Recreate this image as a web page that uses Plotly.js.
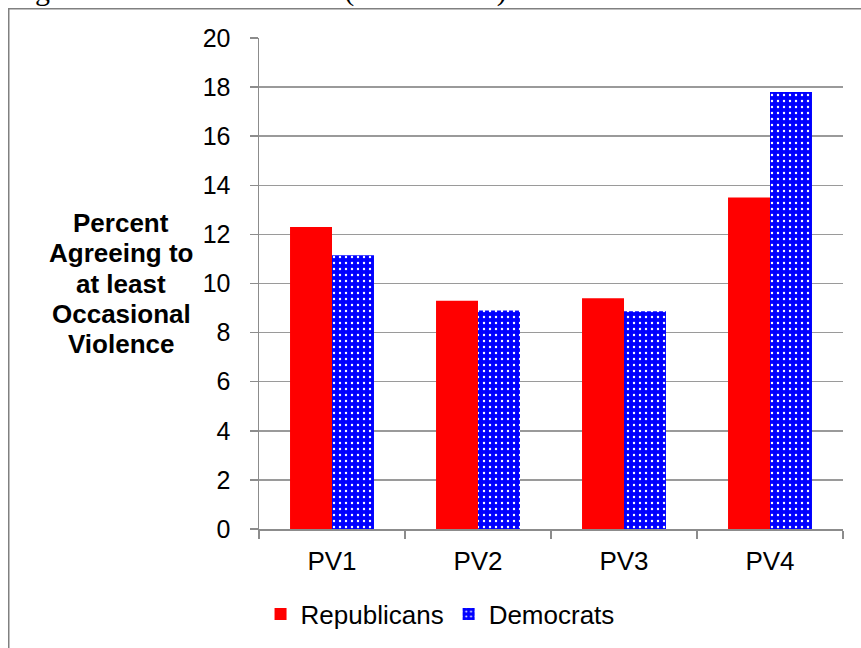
<!DOCTYPE html>
<html>
<head>
<meta charset="utf-8">
<script src="https://cdn.plot.ly/plotly-3.0.1.min.js"></script>
<style>html,body{margin:0;padding:0;background:#fff;}#chart{width:861px;height:648px;}</style>
</head>
<body>
<div id="chart"></div>
<script>
const categories = ["PV1", "PV2", "PV3", "PV4"];
const republicans = [12.3, 9.3, 9.4, 13.5];
const democrats = [11.15, 8.9, 8.87, 17.8];
const yTicks = [0, 2, 4, 6, 8, 10, 12, 14, 16, 18, 20];
const yTitleLines = ["Percent", "Agreeing to", "at least", "Occasional", "Violence"];
const pageTitle = "Figure 3: Partisan Violence (CCES 2018)";

const font = "Arial, 'Liberation Sans', sans-serif";
const fs = 25;

const traces = [
  {
    type: "bar", name: "Republicans", x: categories, y: republicans,
    marker: {color: "#ff0000", line: {width: 0}}
  },
  {
    type: "bar", name: "Democrats", x: categories, y: democrats,
    marker: {color: "#0000ff", line: {width: 0},
      pattern: {shape: ".", bgcolor: "#0000ff", fgcolor: "#ffffff", size: 6, solidity: 0.12, fillmode: "replace"}}
  }
];

// y-title lines, placed with ~30px line spacing (plot area 492px tall)
const titleAnnotations = yTitleLines.map((t, i) => ({
  xref: "paper", yref: "paper", x: -0.2363, y: (530 - (223 + i * 30.5)) / 492,
  xanchor: "center", yanchor: "middle", text: "<b>" + t + "</b>", showarrow: false,
  font: {family: font, size: 26, color: "#000"}
}));

const layout = {
  width: 861, height: 648,
  margin: {l: 259, r: 18, t: 38, b: 118, pad: 0},
  paper_bgcolor: "#ffffff", plot_bgcolor: "#ffffff",
  font: {family: font, size: fs, color: "#000000"},
  barmode: "group", bargap: 0.425, bargroupgap: 0,
  showlegend: true,
  legend: {orientation: "h", x: 0.31, xanchor: "center", y: -0.171, yanchor: "middle",
    font: {family: font, size: 26, color: "#000"}, traceorder: "normal", itemwidth: 30},
  xaxis: {
    type: "category", tickson: "boundaries", ticks: "outside", ticklen: 8, tickwidth: 1.5, tickcolor: "#8c8c8c",
    showline: true, linecolor: "#8c8c8c", linewidth: 1.5, showgrid: false, zeroline: false,
    ticklabelstandoff: 8,
    tickfont: {family: font, size: 26, color: "#000"}
  },
  yaxis: {
    range: [0, 20], tickvals: yTicks, ticktext: yTicks.map(String),
    ticks: "outside", ticklen: 8, tickwidth: 1.5, tickcolor: "#8c8c8c",
    showline: true, linecolor: "#8c8c8c", linewidth: 1.5,
    showgrid: true, gridcolor: "#9a9a9a", gridwidth: 1.5, zeroline: false,
    ticklabelstandoff: 14,
    tickfont: {family: font, size: fs, color: "#000"}
  },
  annotations: titleAnnotations.concat([
    {xref: "paper", yref: "paper", x: -0.43, y: 1.097, xanchor: "left", yanchor: "middle",
     text: pageTitle, showarrow: false, font: {family: "'Liberation Serif', 'Times New Roman', serif", size: 30, color: "#000"}}
  ]),
  shapes: [
    {type: "rect", xref: "paper", yref: "paper", x0: -0.4285, x1: 1.2, y0: -0.4, y1: 1.0595,
     line: {color: "#808080", width: 1.5}, fillcolor: "rgba(0,0,0,0)", layer: "below"}
  ]
};

Plotly.newPlot("chart", traces, layout, {displayModeBar: false, staticPlot: true});
</script>
</body>
</html>
